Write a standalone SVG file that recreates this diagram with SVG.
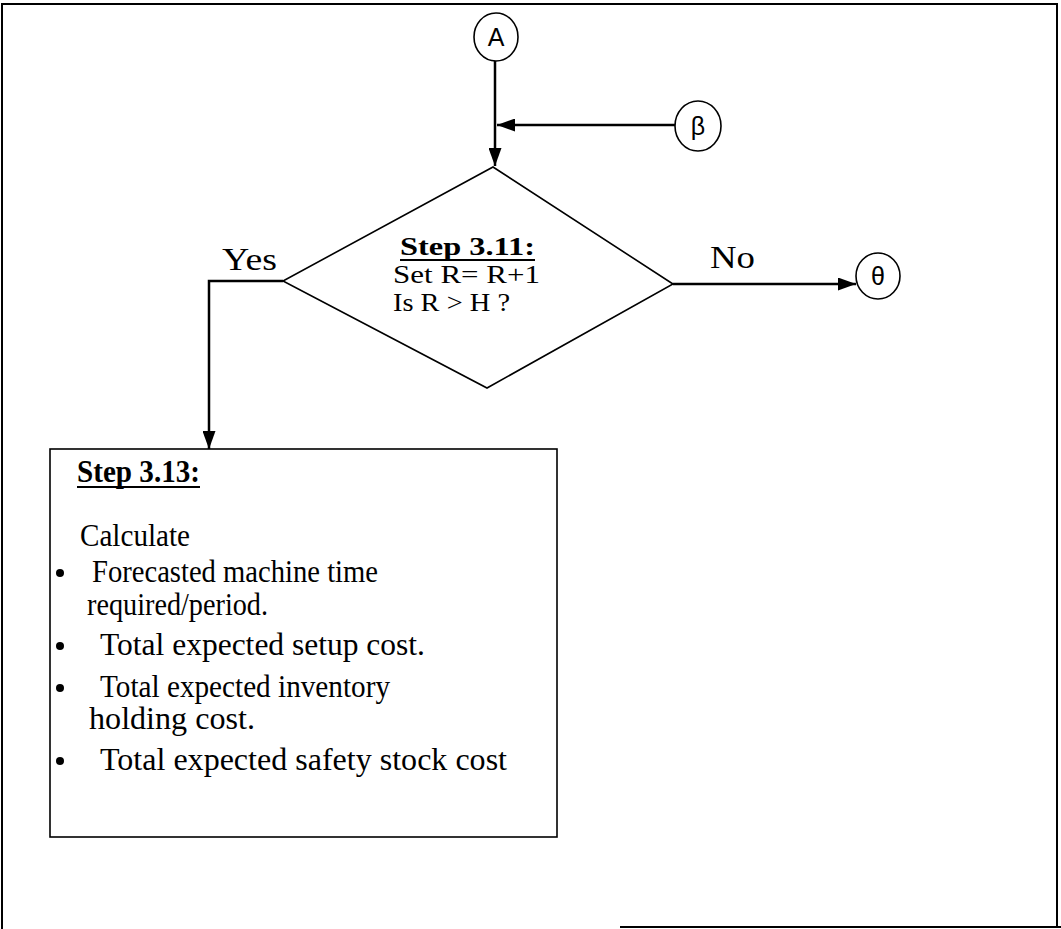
<svg xmlns="http://www.w3.org/2000/svg" width="1061" height="929" viewBox="0 0 1061 929">
<style>
.frame{stroke:#000;stroke-width:2;fill:none}
.shape{stroke:#000;stroke-width:1.6;fill:none}
.conn{stroke:#000;stroke-width:2.5;fill:none}
.t{font-family:"Liberation Serif","Times New Roman",serif;font-size:31px;fill:#000}
.d{font-size:25px}
.b{font-weight:bold}
.s{font-family:"Liberation Sans",Arial,sans-serif;font-size:25px;fill:#000}
.ul{stroke:#000;stroke-width:2}
</style>
<defs>
<marker id="ah" viewBox="0 0 18 13" refX="18" refY="6.5" markerWidth="18" markerHeight="13" markerUnits="userSpaceOnUse" orient="auto">
<path d="M0,0 L18,6.5 L0,13 Z" fill="#000"/>
</marker>
</defs>
<rect width="1061" height="929" fill="#fff"/>
<g id="frame">
<path class="frame" d="M2,929 L2,4 L1057,4 L1057,928"/>
<path class="frame" d="M620,927 L1061,927"/>
</g>
<g id="connectors">
<path class="conn" d="M495,61 L495,166" marker-end="url(#ah)"/>
<path class="conn" d="M675,125 L497,125" marker-end="url(#ah)"/>
<path class="conn" d="M673,284 L856,284" marker-end="url(#ah)"/>
<path class="conn" d="M283,281 L209,281 L209,449" marker-end="url(#ah)"/>
</g>
<g id="nodeA">
<ellipse class="shape" cx="496" cy="37" rx="22" ry="24"/>
<text class="s" x="496" y="46" text-anchor="middle">A</text>
</g>
<g id="nodeBeta">
<ellipse class="shape" cx="698" cy="126" rx="23" ry="25"/>
<text class="s" x="698" y="135" text-anchor="middle">β</text>
</g>
<g id="nodeTheta">
<ellipse class="shape" cx="878" cy="276" rx="22" ry="23"/>
<text class="s" x="878" y="285" text-anchor="middle">θ</text>
</g>
<g id="step311">
<path class="shape" d="M493,167 L673,284 L487,388 L283,281 Z"/>
<text class="t d b" x="400" y="255" textLength="135" lengthAdjust="spacingAndGlyphs">Step 3.11:</text>
<line class="ul" x1="400" y1="260" x2="535" y2="260"/>
<text class="t d" x="393" y="283" textLength="147" lengthAdjust="spacingAndGlyphs">Set R= R+1</text>
<text class="t d" x="393" y="311" textLength="117" lengthAdjust="spacingAndGlyphs">Is R &gt; H ?</text>
</g>
<g id="labels">
<text class="t" x="222" y="270" textLength="55" lengthAdjust="spacingAndGlyphs">Yes</text>
<text class="t" x="710" y="268" textLength="45" lengthAdjust="spacingAndGlyphs">No</text>
</g>
<g id="step313">
<rect class="shape" x="50" y="449" width="507" height="388"/>
<text class="t b" x="77" y="482" textLength="123" lengthAdjust="spacingAndGlyphs">Step 3.13:</text>
<line class="ul" x1="77" y1="487" x2="200" y2="487"/>
<text class="t" x="80" y="546" textLength="110" lengthAdjust="spacingAndGlyphs">Calculate</text>
<circle cx="60" cy="573" r="4"/>
<text class="t" x="92" y="582" textLength="286" lengthAdjust="spacingAndGlyphs">Forecasted machine time</text>
<text class="t" x="87" y="615" textLength="181" lengthAdjust="spacingAndGlyphs">required/period.</text>
<circle cx="60" cy="646" r="4"/>
<text class="t" x="100" y="655" textLength="325" lengthAdjust="spacingAndGlyphs">Total expected setup cost.</text>
<circle cx="60" cy="688" r="4"/>
<text class="t" x="100" y="697" textLength="290" lengthAdjust="spacingAndGlyphs">Total expected inventory</text>
<text class="t" x="89" y="729" textLength="166" lengthAdjust="spacingAndGlyphs">holding cost.</text>
<circle cx="60" cy="761" r="4"/>
<text class="t" x="100" y="770" textLength="407" lengthAdjust="spacingAndGlyphs">Total expected safety stock cost</text>
</g>
</svg>
